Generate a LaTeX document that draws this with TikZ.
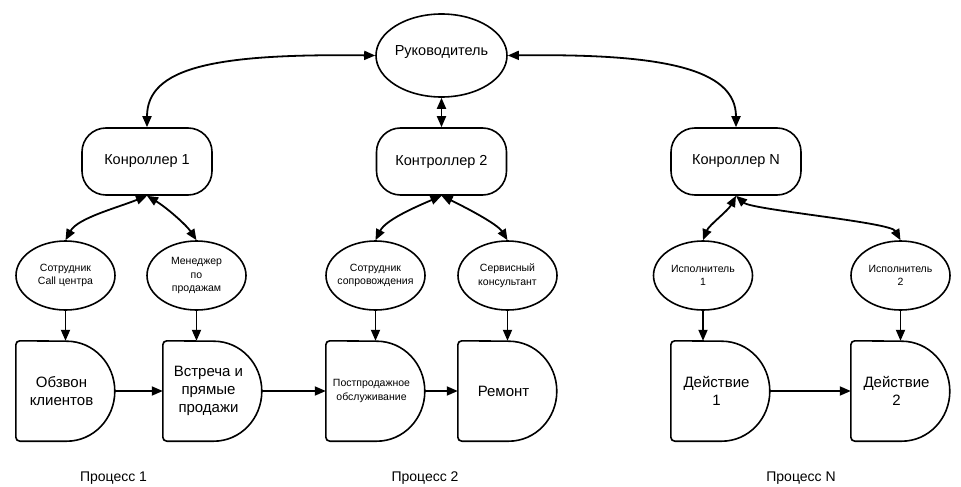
\documentclass[tikz,border=0pt]{standalone}
\usepackage{fontspec}
\setmainfont{Liberation Sans}
\usetikzlibrary{shapes.geometric,arrows.meta,calc}
\newcommand\roleell[4]{%
  \node[roleshape] (#1) at (#2,#3) {};
  \node[roletext] (#1t) at (#1.center) {#4};}
\newcommand\delaybox[5]{%
  \node[dframe] (#1) at (#2,#3) {};
  \draw[shapeline] ($(#1.south west)+(51,0)$) arc[start angle=-90,end angle=90,x radius=48pt,y radius=50pt]
    -- ($(#1.north west)+(4,0)$) arc[start angle=90,end angle=180,radius=4pt]
    -- ($(#1.south west)+(0,4)$) arc[start angle=180,end angle=270,radius=4pt] -- cycle;
  \node[#4] (#1t) at ($(#1.center)+(-4,0)$) {#5};}
\begin{document}
\begin{tikzpicture}[x=1pt,y=1pt,
  tip/.tip={Triangle[length=11pt,width=9pt]},
  shapeline/.style={line width=1.6pt,line join=round},
  conn/.style={line width=1.8pt,-tip},
  biconn/.style={line width=1.8pt,tip-tip},
  bossshape/.style={ellipse,draw,line width=1.6pt,minimum width=131pt,minimum height=83pt,inner sep=0pt},
  bosstext/.style={font=\fontsize{14.5}{17}\selectfont,inner sep=0pt},
  ctrl/.style={rectangle,rounded corners=24pt,draw,line width=1.6pt,minimum width=130pt,minimum height=67pt,font=\fontsize{14.5}{17}\selectfont},
  roleshape/.style={ellipse,draw,line width=1.6pt,minimum width=99pt,minimum height=69pt,inner sep=0pt},
  roletext/.style={align=center,font=\fontsize{10.5}{13.5}\selectfont,inner sep=0pt},
  dframe/.style={rectangle,minimum width=99pt,minimum height=100pt,inner sep=0pt},
  dtext/.style={align=center,font=\fontsize{15}{18}\selectfont,inner sep=0pt},
  dsmall/.style={align=center,font=\fontsize{10.5}{14}\selectfont,inner sep=0pt},
  proc/.style={font=\fontsize{14}{17}\selectfont,inner sep=0pt}
]
\useasboundingbox (0,0) rectangle (961,-487);
\fill[white] (0,0) rectangle (961,-487);

% top
\node[bossshape] (boss) at (441.5,-55.5) {};
\node[bosstext] (bosst) at (441.5,-52.5) {Руководитель};

% controllers
\node[ctrl] (c1) at (147,-161.5) {Конроллер 1};
\node[ctrl] (c2) at (441.5,-161.5) {Контроллер 2};
\node[ctrl] (cN) at (736,-161.5) {Конроллер N};

% roles
\roleell{e1}{65.5}{-275.5}{Сотрудник\\Call центра}
\roleell{e2}{196.5}{-275.5}{Менеджер\\по\\продажам}
\roleell{e3}{375.5}{-275.5}{Сотрудник\\сопровождения}
\roleell{e4}{507.5}{-275.5}{Сервисный\\консультант}
\roleell{e5}{703}{-275.5}{Исполнитель\\1}
\roleell{e6}{900.5}{-275.5}{Исполнитель\\2}

% actions
\delaybox{d1}{65.5}{-391}{dtext}{Обзвон\\клиентов}
\delaybox{d2}{212.5}{-391}{dtext}{Встреча и\\прямые\\продажи}
\delaybox{d3}{375.5}{-391}{dsmall}{Постпродажное\\обслуживание}
\delaybox{d4}{507.5}{-391}{dtext}{Ремонт}
\delaybox{d5}{720.5}{-391}{dtext}{Действие\\1}
\delaybox{d6}{900.5}{-391}{dtext}{Действие\\2}

% process labels
\node[proc] (p1) at (113.5,-478) {Процесс 1};
\node[proc] (p2) at (425,-478) {Процесс 2};
\node[proc] (pN) at (801,-478) {Процесс N};

% top connectors
\draw[biconn] (boss.west) .. controls +(-160,2) and +(0,60) .. (c1.north);
\draw[biconn] (boss.east) .. controls +(150,2) and +(0,60) .. (cN.north);
\draw[biconn] (boss.south) -- (c2.north);

% controller to roles
\draw[biconn] (c1.south) .. controls +(-30,-12) and +(12,22) .. (e1.north);
\draw[biconn] (c1.south) .. controls +(20,-12) and +(-10,15) .. (e2.north);
\draw[biconn] (c2.south) .. controls +(-28,-12) and +(10,20) .. (e3.north);
\draw[biconn] (c2.south) .. controls +(25,-12) and +(-10,16) .. (e4.north);
\draw[biconn] (cN.south) .. controls +(-8,-15) and +(6,15) .. (e5.north);
\draw[biconn] (cN.south) .. controls +(16,-14) and +(-10,18) .. (e6.north);

% roles to actions
\foreach \i in {1,...,6}{
  \draw[conn] (e\i.south) -- (e\i.south |- d\i.north);
}

% process flow
\draw[conn] (d1.east) -- (d2.west);
\draw[conn] (d2.east) -- (d3.west);
\draw[conn] (d3.east) -- (d4.west);
\draw[conn] (d5.east) -- (d6.west);
\end{tikzpicture}
\end{document}
